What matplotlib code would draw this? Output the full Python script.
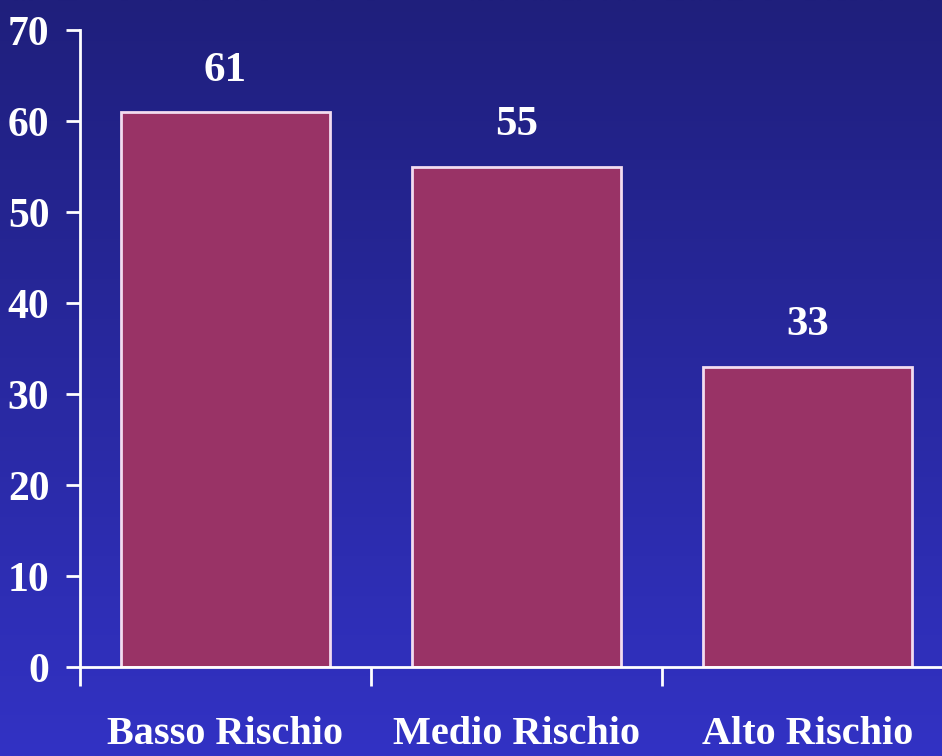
import numpy as np
import matplotlib.pyplot as plt
from matplotlib.colors import LinearSegmentedColormap

categories = ["Basso Rischio", "Medio Rischio", "Alto Rischio"]
values = [61, 55, 33]
y_ticks = [0, 10, 20, 30, 40, 50, 60, 70]

plt.rcParams['font.family'] = ['Liberation Serif', 'DejaVu Serif']

fig = plt.figure(figsize=(9.42, 7.56), dpi=100)

# sfondo sfumato blu scuro -> blu
bg = fig.add_axes([0, 0, 1, 1], zorder=0)
grad = np.linspace(0, 1, 256).reshape(-1, 1)
cmap_bg = LinearSegmentedColormap.from_list("sfondo", ["#1f1f7c", "#3232c4"])
bg.imshow(grad, cmap=cmap_bg, aspect='auto', extent=[0, 1, 0, 1], origin='upper')
bg.set_axis_off()

ax = fig.add_axes([0.0849, 0.1177, 0.9268, 0.8426], zorder=1)
ax.patch.set_alpha(0)

x = np.arange(len(categories))
bars = ax.bar(x, values, width=0.72, color="#993366", edgecolor="#f2dcf0", linewidth=2)

for b, v in zip(bars, values):
    ax.annotate(str(v), (b.get_x() + b.get_width() / 2, v), xytext=(0, 16),
                textcoords='offset points', ha='center', va='bottom',
                color='white', fontsize=31, fontweight='bold')

ax.set_xlim(-0.5, 2.5)
ax.set_ylim(0, 70)
ax.set_yticks(y_ticks)
ax.set_xticks(x)
ax.set_xticklabels(categories)
ax.set_xticks([-0.5, 0.5, 1.5, 2.5], minor=True)

for s in ['top', 'right']:
    ax.spines[s].set_visible(False)
for s in ['left', 'bottom']:
    ax.spines[s].set_color('white')
    ax.spines[s].set_linewidth(2)

ax.tick_params(axis='y', colors='white', length=10, width=2, labelsize=30, pad=12)
ax.tick_params(axis='x', which='major', length=0, colors='white', labelsize=29, pad=35)
ax.tick_params(axis='x', which='minor', length=14, width=2, color='white')
for lab in ax.get_yticklabels() + ax.get_xticklabels():
    lab.set_fontweight('bold')

fig.savefig("out.png", dpi=100)
